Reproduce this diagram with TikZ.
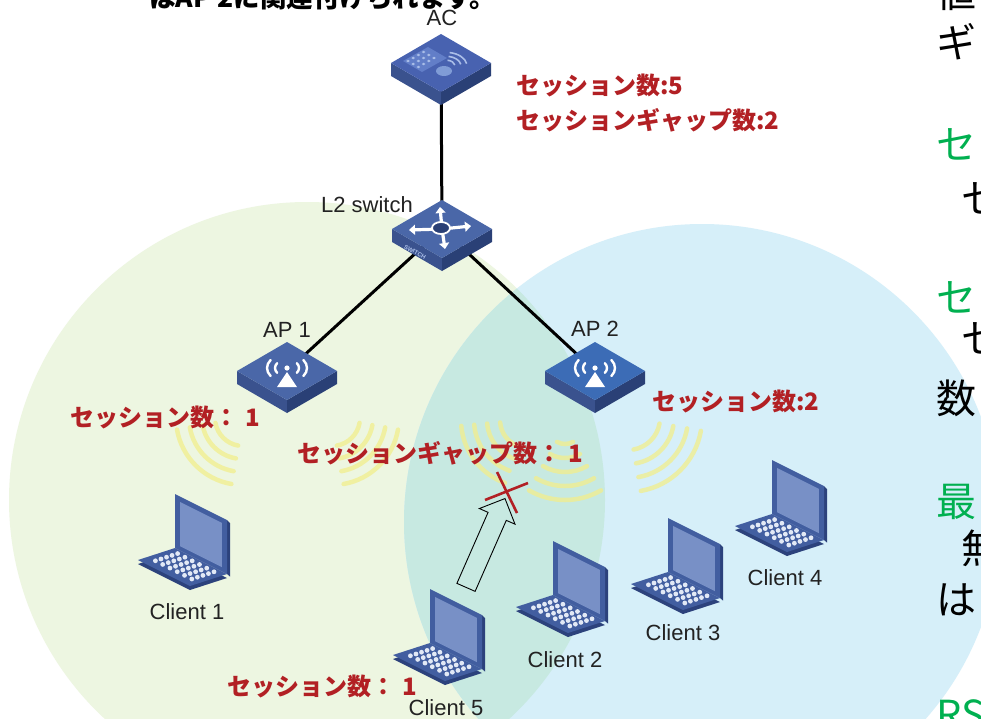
\documentclass[tikz,border=0pt]{standalone}
\usepackage{fontspec}
\setmainfont{Liberation Sans}
\newfontfamily\jp{Noto Sans CJK JP}
\usetikzlibrary{arrows.meta,shapes.arrows}

\definecolor{zoneGreen}{RGB}{237,246,225}
\definecolor{zoneBlue}{RGB}{214,239,249}
\definecolor{zoneMix}{RGB}{199,233,225}
\definecolor{devBlue}{RGB}{74,103,168}
\definecolor{devSide}{RGB}{58,82,142}
\definecolor{devDark}{RGB}{42,64,118}
\definecolor{acBlue}{RGB}{72,98,176}
\definecolor{acPanel}{RGB}{98,126,200}
\definecolor{acKey}{RGB}{170,190,232}
\definecolor{acDisc}{RGB}{128,156,214}
\definecolor{ap2Blue}{RGB}{60,108,182}
\definecolor{lapFrame}{RGB}{66,94,160}
\definecolor{lapDark}{RGB}{44,66,124}
\definecolor{lapScreen}{RGB}{120,144,198}
\definecolor{lapKey}{RGB}{226,233,246}
\definecolor{waveYellow}{RGB}{242,238,140}
\definecolor{countRed}{RGB}{178,32,36}
\definecolor{headGreen}{RGB}{0,176,80}
\definecolor{labelGray}{RGB}{34,34,34}

\tikzset{
  devlabel/.style={font=\fontsize{22}{22}\selectfont, text=labelGray, inner sep=0pt},
  countlabel/.style={font=\jp\bfseries\fontsize{24}{24}\selectfont, text=countRed, inner sep=0pt, anchor=west},
  sidetext/.style={font=\jp\fontsize{40}{40}\selectfont, inner sep=0pt, anchor=west},
  swtag/.style={font=\bfseries\fontsize{6}{6}\selectfont, text=acKey, inner sep=0pt, rotate=-29},
  wave/.style={draw=waveYellow, draw opacity=0.75, line width=4.5pt, line cap=round},
  link/.style={draw=black, line width=3pt},
  xmark/.style={draw=countRed, line width=2.6pt},
  movearrow/.style={single arrow, draw=black, line width=0.9pt, minimum height=97pt,
    single arrow head extend=9.5pt, inner xsep=0pt, inner ysep=9.5pt},
  pics/device/.style={code={
    \fill[devSide] (-50,0) -- (0,29) -- (0,42) -- (-50,13) -- cycle;
    \fill[devDark] (0,29) -- (50,0) -- (50,13) -- (0,42) -- cycle;
    \fill[#1] (0,-29) -- (50,0) -- (0,29) -- (-50,0) -- cycle;
  }},
  pics/acmark/.style={code={
    \fill[acPanel] (-38,-2) -- (-13,-16) -- (6,-5) -- (-19,9) -- cycle;
    \foreach \i in {0,...,3} \foreach \j in {0,...,2}
      \fill[acKey] ({-33+5.2*\i+5.2*\j},{-2-3*\i+3*\j}) ellipse (1.8pt and 1.3pt);
    \fill[acDisc] (3,8) ellipse (8pt and 5pt);
    \foreach \r in {9,15,21}
      \draw[acKey, line width=1.6pt] (5,3) ++(-80:{\r} and {0.65*\r}) arc[start angle=-80, end angle=-10, x radius=\r, y radius=0.65*\r];
  }},
  pics/swmark/.style={code={
    \foreach \x/\y in {-2/-22, 3/20, -33/1, 29/-3}
      \draw[white, line width=3.2pt, -{Triangle[length=6pt,width=10pt]}] (0,0) -- (\x,\y);
    \fill[devDark] (-1,-1) ellipse (9pt and 6pt);
    \draw[white, line width=1.8pt] (-1,-1) ellipse (9pt and 6pt);
    \node[swtag] (tag) at (-27,23) {SWITCH};
  }},
  pics/apmark/.style={code={
    \fill[white] (0,-3) circle (2.6pt);
    \foreach \r in {12,20} {
      \draw[white, line width=2.4pt, line cap=round] (0,-3) ++(145:{\r} and {0.7*\r}) arc[start angle=145, end angle=215, x radius=\r, y radius=0.7*\r];
      \draw[white, line width=2.4pt, line cap=round] (0,-3) ++(-35:{\r} and {0.7*\r}) arc[start angle=-35, end angle=35, x radius=\r, y radius=0.7*\r];
    }
    \fill[white] (0,1) -- (10,16) -- (-10,16) -- cycle;
  }},
  pics/laptop/.style={code={
    % keyboard half
    \begin{scope}[x={(52pt,-26pt)}, y={(-37pt,-12pt)}]
      \fill[lapDark, yshift=-4pt] (0,0) -- (1,0) -- (1,1) -- (0,1) -- cycle;
      \fill[lapFrame] (0,0) -- (1,0) -- (1,1) -- (0,1) -- cycle;
      \foreach \i in {0,...,5} \foreach \j in {0,...,4}
        \fill[lapKey] ({0.15+0.14*\i},{0.14+0.15*\j}) circle (2.4pt);
    \end{scope}
    % screen half
    \begin{scope}[x={(52pt,-26pt)}, y={(0pt,54pt)}]
      \fill[lapDark] (1,0) -- (1.06,-0.02) -- (1.06,0.97) -- (1,1) -- cycle;
      \fill[lapFrame] (0,0) -- (1,0) -- (1,1) -- (0,1) -- cycle;
      \fill[lapScreen] (0.1,0.08) -- (0.9,0.08) -- (0.9,0.9) -- (0.1,0.9) -- cycle;
    \end{scope}
  }},
  pics/waves/.style args={#1/#2/#3}{code={
    \foreach \r in {#3} \draw[wave] (#1:\r) arc (#1:#2:\r);
  }},
}

\begin{document}
\begin{tikzpicture}[x=1pt, y=-1pt]
\clip (0,0) rectangle (981,718);
\fill[white] (0,0) rectangle (981,718);

% coverage of the two APs
\fill[zoneGreen] (307,500) circle (298pt);
\fill[zoneBlue] (702,522) circle (298pt);
\begin{scope}
  \clip (307,500) circle (298pt);
  \fill[zoneMix] (702,522) circle (298pt);
\end{scope}

% radio waves
\pic at (243,418) {waves={100/170/{28,41,54,67}}};
\pic at (332,418) {waves={10/80/{28,41,54,67}}};
\pic at (528,420) {waves={110/175/{28,41,54,67}}};
\pic at (565,428) {waves={60/120/{16,30,44,58,72}}};
\pic at (628,418) {waves={10/80/{32,46,60,74}}};

\coordinate (ac) at (441,63);
\coordinate (sw) at (442,229);
\coordinate (ap1) at (287,371);
\coordinate (ap2) at (595,371);

\draw[link] (ac) -- (sw);
\draw[link] (sw) -- (ap1);
\draw[link] (sw) -- (ap2);

\pic at (ac) {device=acBlue};
\pic at (ac) {acmark};
\pic at (sw) {device=devBlue};
\pic at (sw) {swmark};
\pic at (ap1) {device=devBlue};
\pic at (ap1) {apmark};
\pic at (ap2) {device=ap2Blue};
\pic at (ap2) {apmark};

\node[devlabel] (aclbl) at (442,18) {AC};
\node[devlabel] (swlbl) at (367,205) {L2 switch};
\node[devlabel] (ap1lbl) at (287,330) {AP 1};
\node[devlabel] (ap2lbl) at (595,329) {AP 2};

% clients
\coordinate (c1) at (175,548);
\coordinate (c2) at (553,595);
\coordinate (c3) at (668,572);
\coordinate (c4) at (772,514);
\coordinate (c5) at (430,643);
\pic at (c1) {laptop};
\pic at (c2) {laptop};
\pic at (c3) {laptop};
\pic at (c4) {laptop};
\pic at (c5) {laptop};
\node[devlabel] (c1lbl) at ([shift={(12,64)}]c1) {Client 1};
\node[devlabel] (c2lbl) at ([shift={(12,65)}]c2) {Client 2};
\node[devlabel] (c3lbl) at ([shift={(15,61)}]c3) {Client 3};
\node[devlabel] (c4lbl) at ([shift={(13,64)}]c4) {Client 4};
\node[devlabel] (c5lbl) at ([shift={(16,65)}]c5) {Client 5};

% roaming of client 5 is refused
\coordinate (gap) at (507,492);
\node[movearrow, rotate=66.3] (move) at (483.5,547.5) {};
\draw[xmark] (gap) +(-22,8) -- +(21,-9);
\draw[xmark] (gap) +(-10,-20) -- +(10,21);

% counters
\node[countlabel] (acsess) at (516,85) {セッション数:5};
\node[countlabel] (acgap) at (516,120) {セッションギャップ数:2};
\node[countlabel] (ap1sess) at (70,417) {セッション数：\hspace{0.3em}1};
\node[countlabel] (ap1gap) at (297,453) {セッションギャップ数：\hspace{0.3em}1};
\node[countlabel] (ap2sess) at (652,401) {セッション数:2};
\node[countlabel] (c5sess) at (227,686) {セッション数：\hspace{0.3em}1};

% text cut off by the slide edge
\node[font=\jp\bfseries\fontsize{26.5}{26.5}\selectfont, inner sep=0pt, anchor=base west] (head) at (149,7) {はAP 2に関連付けられます。};
\node[sidetext] (s1) at (936,-8) {値};
\node[sidetext] (s2) at (936,42) {ギャ};
\node[sidetext, text=headGreen] (s3) at (936,146) {セッ};
\node[sidetext] (s4) at (961,198) {セ};
\node[sidetext, text=headGreen] (s5) at (936,299) {セッ};
\node[sidetext] (s6) at (961,338) {セ};
\node[sidetext] (s7) at (936,398) {数};
\node[sidetext, text=headGreen] (s8) at (936,502) {最};
\node[sidetext] (s9) at (961,548) {無};
\node[sidetext] (s10) at (936,600) {は};
\node[sidetext, text=headGreen] (s11) at (936,715) {RS};
\end{tikzpicture}
\end{document}
